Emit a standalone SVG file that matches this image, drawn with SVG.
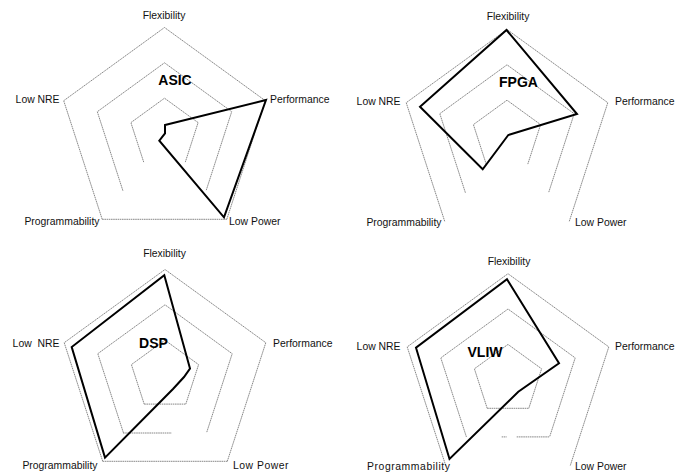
<svg xmlns="http://www.w3.org/2000/svg" xmlns:xlink="http://www.w3.org/1999/xlink" width="684" height="472" viewBox="0 0 684 472">
<style>
.ring{fill:none;stroke:#7a7a7a;stroke-width:0.9;stroke-dasharray:1.6 0.6}
.data{fill:none;stroke:#000;stroke-width:2;stroke-linejoin:miter}
.lbl{font-family:"Liberation Sans",Arial,sans-serif;font-size:10.4px;fill:#111}
.ttl{font-family:"Liberation Sans",Arial,sans-serif;font-size:14px;font-weight:bold;fill:#000}
.e{text-anchor:end}.m{text-anchor:middle}
</style>
<defs>
<polyline id="o4" points="-62.3,85.8 -100.8,-32.8 0,-106 100.8,-32.8 62.3,85.8"/>
<line id="ob" x1="-62.3" y1="85.8" x2="62.3" y2="85.8"/>
<polyline id="m4" points="-41.6,57.2 -67.2,-21.8 0,-70.7 67.2,-21.8 41.6,57.2"/>
<polyline id="i4" points="-20.8,28.6 -33.6,-10.9 0,-35.3 33.6,-10.9 20.8,28.6"/>
<line id="ib" x1="-20.8" y1="28.6" x2="20.8" y2="28.6"/>
</defs>
<rect width="684" height="472" fill="#fff"/>

<g id="asic">
<g transform="translate(164.5,133.5)">
<use xlink:href="#o4" class="ring"/><use xlink:href="#ob" class="ring"/>
<use xlink:href="#m4" class="ring"/><use xlink:href="#i4" class="ring"/>
<polygon class="data" points="0.5,-8.5 101.5,-33.5 59.5,83.8 -5.2,7.2 0.5,-0.2"/>
</g>
<text class="lbl m" x="164" y="19">Flexibility</text>
<text class="lbl" x="270" y="103">Performance</text>
<text class="lbl e" x="59.5" y="103">Low NRE</text>
<text class="lbl e" x="99.5" y="225">Programmability</text>
<text class="lbl" x="229" y="225">Low Power</text>
<text class="ttl m" x="175" y="85">ASIC</text>
</g>

<g id="fpga">
<g transform="translate(507,135.5)">
<use xlink:href="#o4" class="ring"/>
<use xlink:href="#m4" class="ring"/><use xlink:href="#i4" class="ring"/>
<polygon class="data" points="-0.5,-105.5 70,-21.5 1.3,-0.5 -24.3,33.8 -87,-28.8"/>
</g>
<text class="lbl m" x="508" y="20">Flexibility</text>
<text class="lbl" x="615" y="105">Performance</text>
<text class="lbl e" x="400.5" y="105">Low NRE</text>
<text class="lbl e" x="441.5" y="226">Programmability</text>
<text class="lbl" x="575" y="226">Low Power</text>
<text class="ttl m" x="518.5" y="86.5">FPGA</text>
</g>

<g id="dsp">
<g transform="translate(165,375.5)">
<use xlink:href="#o4" class="ring"/><use xlink:href="#ob" class="ring"/>
<use xlink:href="#m4" class="ring"/><line class="ring" x1="-42" y1="57.5" x2="6.7" y2="57.5"/>
<use xlink:href="#i4" class="ring"/><use xlink:href="#ib" class="ring"/>
<polygon class="data" points="-0.7,-100.2 25,-7 19,1.5 8,13.5 -60,82.1 -93.3,-28.5"/>
</g>
<text class="lbl m" x="164.5" y="257">Flexibility</text>
<text class="lbl" x="273" y="347">Performance</text>
<text class="lbl e" x="59.5" y="347" word-spacing="3">Low NRE</text>
<text class="lbl e" x="97.5" y="469">Programmability</text>
<text class="lbl" x="233" y="469" letter-spacing="0.5">Low Power</text>
<text class="ttl m" x="153.5" y="348">DSP</text>
</g>

<g id="vliw">
<g transform="translate(508,379.7)">
<use xlink:href="#o4" class="ring"/>
<use xlink:href="#m4" class="ring"/>
<line class="ring" x1="-6.3" y1="57.2" x2="-1.3" y2="57.2"/><line class="ring" x1="8.7" y1="57.2" x2="41.6" y2="57.2"/>
<use xlink:href="#i4" class="ring"/><use xlink:href="#ib" class="ring"/>
<polygon class="data" points="-1,-100.4 51,-16.4 10.3,12 -58.5,79.3 -92,-32"/>
</g>
<text class="lbl m" x="509" y="265">Flexibility</text>
<text class="lbl" x="615" y="350">Performance</text>
<text class="lbl e" x="400.5" y="350">Low NRE</text>
<text class="lbl" x="367" y="470" textLength="83" lengthAdjust="spacing">Programmability</text>
<text class="lbl" x="575" y="470">Low Power</text>
<text class="ttl m" x="485" y="357">VLIW</text>
</g>
</svg>
